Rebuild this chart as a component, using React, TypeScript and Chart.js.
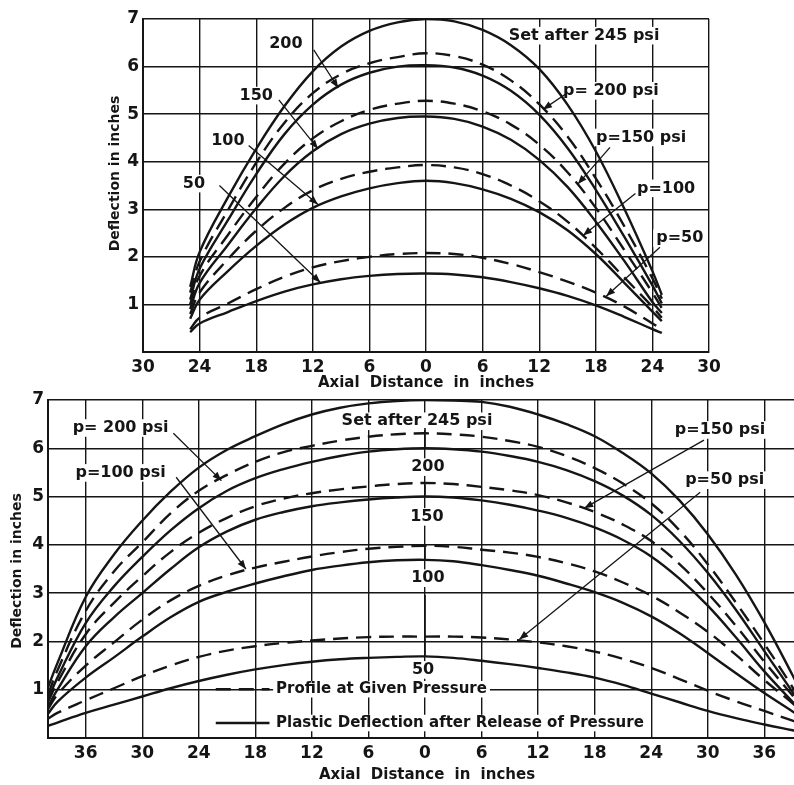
import React, { useEffect, useRef } from 'react';
import { Chart, registerables } from 'chart.js';

Chart.register(...registerables);

const FONT = '"DejaVu Sans", "Liberation Sans", sans-serif';
const INK = '#151515';

// ---------- top panel (span ±25 in) ----------
const topX = [-25, -24, -21, -18, -15, -12, -9, -6, -3, 0, 3, 6, 9, 12, 15, 18, 21, 24, 25];
const topSet245 = [1.37, 2.1, 3.25, 4.27, 5.17, 5.9, 6.42, 6.75, 6.93, 7.0, 6.95, 6.77, 6.45, 5.95, 5.2, 4.22, 3.02, 1.7, 1.2];
const topP200 = [1.25, 1.9, 2.98, 3.98, 4.82, 5.44, 5.84, 6.07, 6.2, 6.28, 6.22, 6.04, 5.71, 5.21, 4.53, 3.65, 2.65, 1.55, 1.12];
const topSet200 = [1.1, 1.75, 2.77, 3.74, 4.58, 5.2, 5.62, 5.87, 6.0, 6.03, 5.98, 5.81, 5.49, 4.99, 4.29, 3.41, 2.43, 1.4, 1.02];
const topP150 = [1.0, 1.6, 2.46, 3.26, 3.96, 4.49, 4.85, 5.09, 5.22, 5.28, 5.22, 5.06, 4.78, 4.36, 3.78, 3.03, 2.15, 1.25, 0.92];
const topSet150 = [0.9, 1.45, 2.25, 3.02, 3.7, 4.22, 4.58, 4.8, 4.92, 4.95, 4.9, 4.74, 4.46, 4.04, 3.47, 2.74, 1.92, 1.05, 0.82];
const topP100 = [0.8, 1.25, 1.95, 2.55, 3.03, 3.4, 3.64, 3.79, 3.88, 3.93, 3.88, 3.74, 3.5, 3.17, 2.74, 2.19, 1.57, 0.95, 0.72];
const topSet100 = [0.7, 1.1, 1.7, 2.23, 2.68, 3.03, 3.27, 3.44, 3.55, 3.6, 3.55, 3.42, 3.22, 2.94, 2.56, 2.06, 1.46, 0.85, 0.65];
const topP50 = [0.48, 0.72, 1.02, 1.32, 1.58, 1.78, 1.91, 2.0, 2.06, 2.08, 2.06, 1.98, 1.85, 1.68, 1.48, 1.25, 0.96, 0.6, 0.48];
const topSet50 = [0.42, 0.6, 0.84, 1.07, 1.27, 1.42, 1.53, 1.6, 1.64, 1.65, 1.63, 1.57, 1.47, 1.34, 1.18, 0.98, 0.74, 0.48, 0.4];
const topXTicks = [-30, -24, -18, -12, -6, 0, 6, 12, 18, 24, 30];

// ---------- bottom panel (span ±40 in) ----------
const botX = [-40, -39, -36, -33, -30, -27, -24, -21, -18, -15, -12, -9, -6, -3, 0, 3, 6, 9, 12, 15, 18, 21, 24, 27, 30, 33, 36, 39, 40];
const botSet245 = [1.05, 1.55, 2.92, 3.8, 4.5, 5.1, 5.6, 5.97, 6.25, 6.5, 6.7, 6.84, 6.93, 6.98, 7.0, 6.99, 6.96, 6.86, 6.7, 6.5, 6.25, 5.9, 5.48, 4.92, 4.22, 3.38, 2.4, 1.3, 0.9];
const botP200 = [0.9, 1.4, 2.63, 3.45, 4.05, 4.65, 5.12, 5.45, 5.72, 5.92, 6.05, 6.16, 6.24, 6.29, 6.31, 6.29, 6.24, 6.15, 6.03, 5.84, 5.59, 5.27, 4.86, 4.3, 3.6, 2.8, 1.95, 1.05, 0.72];
const botSet200 = [0.8, 1.25, 2.38, 3.14, 3.75, 4.3, 4.76, 5.12, 5.38, 5.57, 5.72, 5.84, 5.93, 5.98, 6.0, 5.98, 5.93, 5.84, 5.72, 5.55, 5.32, 5.02, 4.62, 4.08, 3.42, 2.65, 1.8, 0.95, 0.65];
const botP150 = [0.75, 1.15, 2.15, 2.8, 3.35, 3.85, 4.25, 4.56, 4.8, 4.96, 5.07, 5.15, 5.21, 5.26, 5.28, 5.26, 5.2, 5.13, 5.03, 4.88, 4.68, 4.42, 4.08, 3.6, 3.0, 2.32, 1.58, 0.88, 0.65];
const botSet150 = [0.65, 1.0, 1.9, 2.5, 3.0, 3.5, 3.95, 4.28, 4.52, 4.68, 4.8, 4.88, 4.94, 4.98, 5.0, 4.98, 4.92, 4.83, 4.71, 4.56, 4.36, 4.1, 3.76, 3.3, 2.74, 2.08, 1.38, 0.75, 0.55];
const botP100 = [0.6, 0.9, 1.5, 1.98, 2.45, 2.85, 3.15, 3.37, 3.53, 3.65, 3.76, 3.85, 3.92, 3.96, 3.98, 3.96, 3.9, 3.84, 3.75, 3.62, 3.45, 3.22, 2.95, 2.6, 2.2, 1.72, 1.2, 0.72, 0.55];
const botSet100 = [0.5, 0.75, 1.25, 1.67, 2.1, 2.5, 2.82, 3.03, 3.2, 3.35, 3.48, 3.57, 3.64, 3.68, 3.69, 3.66, 3.58, 3.48, 3.36, 3.2, 3.02, 2.8, 2.52, 2.17, 1.76, 1.34, 0.93, 0.55, 0.42];
const botP50 = [0.4, 0.52, 0.78, 1.03, 1.28, 1.5, 1.68, 1.81, 1.9, 1.97, 2.02, 2.06, 2.09, 2.1, 2.1, 2.1, 2.08, 2.04, 1.98, 1.9, 1.79, 1.64, 1.45, 1.22, 0.98, 0.76, 0.56, 0.36, 0.3];
const botSet50 = [0.25, 0.32, 0.52, 0.69, 0.86, 1.03, 1.18, 1.31, 1.42, 1.51, 1.58, 1.63, 1.66, 1.68, 1.69, 1.66, 1.6, 1.53, 1.45, 1.36, 1.25, 1.1, 0.92, 0.74, 0.56, 0.41, 0.28, 0.16, 0.12];
const botXTicks = [-36, -30, -24, -18, -12, -6, 0, 6, 12, 18, 24, 30, 36];

const yTicks = [0, 1, 2, 3, 4, 5, 6, 7];

// ---------- annotations (data coordinates) ----------
const topLabelTexts = ['200', '150', '100', '50', 'Set after 245 psi', 'p= 200 psi', 'p=150 psi', 'p=100', 'p=50'];
const topLabelX = [-14.85, -18.0, -21.0, -24.6, 16.75, 19.6, 22.8, 25.45, 26.9];
const topLabelY = [6.48, 5.39, 4.44, 3.54, 6.65, 5.49, 4.51, 3.44, 2.39];
const topArrows = [
  [-11.9, 6.35, -9.3, 5.55],
  [-15.6, 5.3, -11.45, 4.27],
  [-18.8, 4.34, -11.45, 3.1],
  [-21.9, 3.5, -11.2, 1.46],
  [14.85, 5.43, 12.4, 5.1],
  [19.5, 4.3, 16.1, 3.53],
  [22.2, 3.33, 16.65, 2.45],
  [24.8, 2.2, 19.1, 1.17],
];

const botLabelTexts = ['p= 200 psi', 'p=100 psi', 'Set after 245 psi', '200', '150', '100', '50', 'p=150 psi', 'p=50 psi'];
const botLabelX = [-32.3, -32.3, -0.85, 0.3, 0.2, 0.3, -0.2, 31.3, 31.8];
const botLabelY = [6.42, 5.49, 6.56, 5.61, 4.58, 3.31, 1.41, 6.38, 5.34];
const botArrows = [
  [-26.7, 6.31, -21.6, 5.33],
  [-26.4, 5.4, -19.0, 3.5],
  [29.6, 6.17, 16.9, 4.76],
  [29.2, 5.09, 10.0, 2.04],
];
const botPointers = [
  [0, 6.42, 0, 6.0],
  [0, 5.25, 0, 5.02],
  [0, 3.95, 0, 3.68],
  [0, 2.96, 0, 1.69],
];
const legendTexts = ['Profile at Given Pressure', 'Plastic Deflection after Release of Pressure'];
const legendY = [1.01, 0.31];
const legendLineX = [-22.2, -16.5];
const legendTextX = -15.8;

type Seg = number[];

function drawArrow(ctx: CanvasRenderingContext2D, x1: number, y1: number, x2: number, y2: number, head: boolean) {
  ctx.beginPath();
  ctx.moveTo(x1, y1);
  ctx.lineTo(x2, y2);
  ctx.stroke();
  if (head) {
    const a = Math.atan2(y2 - y1, x2 - x1);
    const L = 9, W = 3.5;
    ctx.beginPath();
    ctx.moveTo(x2, y2);
    ctx.lineTo(x2 - L * Math.cos(a) + W * Math.sin(a), y2 - L * Math.sin(a) - W * Math.cos(a));
    ctx.lineTo(x2 - L * Math.cos(a) - W * Math.sin(a), y2 - L * Math.sin(a) + W * Math.cos(a));
    ctx.closePath();
    ctx.fill();
  }
}

const LABEL_FONT = (size: number) => `bold ${size}px ${FONT}`;

const annotPlugin = {
  id: 'annot',
  beforeDatasetsDraw(chart: any, _a: any, opts: any) {
    const { ctx, scales } = chart;
    const xs = scales.x, ys = scales.y;
    ctx.save();
    ctx.fillStyle = '#ffffff';
    const boxes = (texts: string[], X: number[], Y: number[], size: number, align: string) => {
      ctx.font = LABEL_FONT(size);
      texts.forEach((t, i) => {
        const w = ctx.measureText(t).width;
        const px = xs.getPixelForValue(X[i]);
        const py = ys.getPixelForValue(Y[i]);
        const left = align === 'left' ? px : px - w / 2;
        ctx.fillRect(left - 3, py - size * 0.55, w + 6, size * 1.1);
      });
    };
    if (opts.labels) boxes(opts.labels, opts.labelX, opts.labelY, opts.labelSize, 'center');
    if (opts.legend) boxes(opts.legend, opts.legend.map(() => opts.legendTextX), opts.legendY, 15, 'left');
    ctx.restore();
  },
  afterDatasetsDraw(chart: any, _a: any, opts: any) {
    const { ctx, scales, chartArea } = chart;
    const xs = scales.x, ys = scales.y;
    const px = (v: number) => xs.getPixelForValue(v);
    const py = (v: number) => ys.getPixelForValue(v);
    ctx.save();
    ctx.fillStyle = INK;
    ctx.strokeStyle = INK;
    ctx.textBaseline = 'middle';
    ctx.font = LABEL_FONT(opts.labelSize);
    ctx.textAlign = 'center';
    (opts.labels || []).forEach((t: string, i: number) => {
      ctx.fillText(t, px(opts.labelX[i]), py(opts.labelY[i]));
    });
    ctx.lineWidth = 1.3;
    (opts.arrows || []).forEach((s: Seg) => drawArrow(ctx, px(s[0]), py(s[1]), px(s[2]), py(s[3]), true));
    ctx.lineWidth = 1.6;
    (opts.pointers || []).forEach((s: Seg) => drawArrow(ctx, px(s[0]), py(s[1]), px(s[2]), py(s[3]), false));
    if (opts.legend) {
      ctx.font = LABEL_FONT(15);
      ctx.textAlign = 'left';
      opts.legend.forEach((t: string, i: number) => {
        ctx.lineWidth = 2.4;
        ctx.setLineDash(i === 0 ? [15, 8] : []);
        ctx.beginPath();
        ctx.moveTo(px(opts.legendLineX[0]), py(opts.legendY[i]));
        ctx.lineTo(px(opts.legendLineX[1]), py(opts.legendY[i]));
        ctx.stroke();
        ctx.setLineDash([]);
        ctx.fillText(t, px(opts.legendTextX), py(opts.legendY[i]));
      });
    }
    ctx.font = LABEL_FONT(15);
    ctx.textAlign = 'center';
    (ctx as any).wordSpacing = '5px';
    ctx.fillText('Axial Distance in inches', (chartArea.left + chartArea.right) / 2 + opts.xTitleDx, chartArea.bottom + opts.xTitleDy);
    (ctx as any).wordSpacing = '0px';
    ctx.font = LABEL_FONT(14);
    ctx.save();
    ctx.translate(chartArea.left + opts.yTitleDx, (chartArea.top + chartArea.bottom) / 2 + opts.yTitleDy);
    ctx.rotate(-Math.PI / 2);
    ctx.fillText('Deflection in inches', 0, 0);
    ctx.restore();
    ctx.restore();
  },
};

function makeDatasets(xs: number[], series: number[][], dashed: boolean[]) {
  return series.map((vals, i) => ({
    data: xs.map((x, j) => ({ x, y: vals[j] })),
    borderColor: INK,
    borderWidth: 2.4,
    borderDash: dashed[i] ? [15, 8] : [],
    pointRadius: 0,
    tension: 0.4,
    fill: false,
  }));
}

function makeConfig(p: any): any {
  return {
    type: 'line',
    data: { datasets: makeDatasets(p.xs, p.series, p.dashed) },
    plugins: [annotPlugin],
    options: {
      responsive: false,
      animation: false,
      events: [],
      layout: { padding: p.padding },
      plugins: {
        legend: { display: false },
        tooltip: { enabled: false },
        annot: p.annot,
      },
      scales: {
        x: {
          type: 'linear',
          min: p.xMin,
          max: p.xMax,
          afterBuildTicks: (s: any) => { s.ticks = p.xTicks.map((v: number) => ({ value: v })); },
          afterFit: (s: any) => { s.height = p.xAxisH; s.paddingLeft = 0; s.paddingRight = 0; },
          ticks: {
            autoSkip: false,
            maxRotation: 0,
            padding: p.xTickPad,
            color: INK,
            font: { family: FONT, size: 17, weight: 'bold' },
            callback: (v: number) => String(Math.abs(v)),
          },
          grid: { color: INK, lineWidth: 1.4, drawTicks: false },
          border: { color: INK, width: 2 },
        },
        y: {
          type: 'linear',
          min: 0,
          max: 7,
          afterBuildTicks: (s: any) => { s.ticks = yTicks.map((v) => ({ value: v })); },
          afterFit: (s: any) => { s.width = p.yAxisW; s.paddingTop = 0; s.paddingBottom = 0; },
          ticks: {
            padding: 4,
            color: INK,
            font: { family: FONT, size: 17, weight: 'bold' },
            callback: (v: number) => (v === 0 ? '' : String(v)),
          },
          grid: { color: INK, lineWidth: 1.4, drawTicks: false },
          border: { color: INK, width: 2 },
        },
      },
    },
  };
}

function Panel(props: { cfg: any; width: number; height: number; top: number }) {
  const ref = useRef<HTMLCanvasElement | null>(null);
  useEffect(() => {
    if (!ref.current) return;
    const chart = new Chart(ref.current, makeConfig(props.cfg));
    return () => chart.destroy();
  }, []);
  return (
    <canvas
      ref={ref}
      width={props.width}
      height={props.height}
      style={{ position: 'absolute', left: 0, top: props.top, width: props.width, height: props.height }}
    />
  );
}

const dashPattern = [false, true, false, true, false, true, false, true, false];

const topCfg = {
  xs: topX,
  series: [topSet245, topP200, topSet200, topP150, topSet150, topP100, topSet100, topP50, topSet50],
  dashed: dashPattern,
  xMin: -30,
  xMax: 30,
  xTicks: topXTicks,
  xAxisH: 40,
  xTickPad: 5,
  yAxisW: 143,
  padding: { left: 0, right: 85, top: 19, bottom: 0 },
  annot: {
    labels: topLabelTexts,
    labelX: topLabelX,
    labelY: topLabelY,
    labelSize: 16,
    arrows: topArrows,
    xTitleDx: 0,
    xTitleDy: 31,
    yTitleDx: -28,
    yTitleDy: -12,
  },
};

const botCfg = {
  xs: botX,
  series: [botSet245, botP200, botSet200, botP150, botSet150, botP100, botSet100, botP50, botSet50],
  dashed: dashPattern,
  xMin: -40,
  xMax: 40,
  xTicks: botXTicks,
  xAxisH: 47,
  xTickPad: 5,
  yAxisW: 48,
  padding: { left: 0, right: 18, top: 30, bottom: 0 },
  annot: {
    labels: botLabelTexts,
    labelX: botLabelX,
    labelY: botLabelY,
    labelSize: 16,
    arrows: botArrows,
    pointers: botPointers,
    legend: legendTexts,
    legendY: legendY,
    legendLineX: legendLineX,
    legendTextX: legendTextX,
    xTitleDx: 2,
    xTitleDy: 37,
    yTitleDx: -31,
    yTitleDy: 2,
  },
};

export default function App() {
  return (
    <div style={{ position: 'absolute', left: 0, top: 0, width: 794, height: 785, overflow: 'hidden', background: '#fff' }}>
      <Panel cfg={topCfg} width={794} height={392} top={0} />
      <Panel cfg={botCfg} width={820} height={415} top={370} />
    </div>
  );
}
